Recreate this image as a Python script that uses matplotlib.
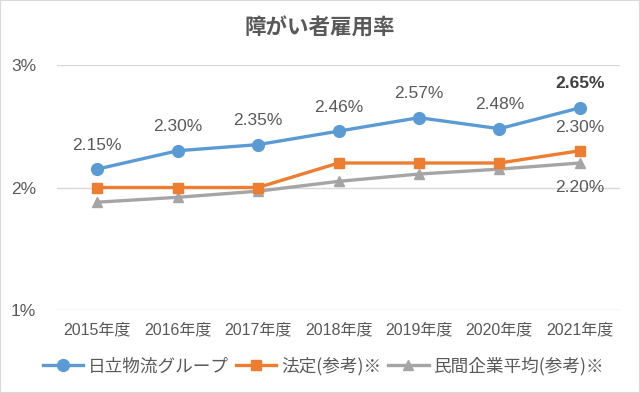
import matplotlib
matplotlib.use("Agg")
import matplotlib.pyplot as plt
from matplotlib.patches import Rectangle

plt.rcParams['font.family'] = ['Liberation Sans', 'Noto Sans CJK JP', 'DejaVu Sans']

years = ["2015年度", "2016年度", "2017年度", "2018年度", "2019年度", "2020年度", "2021年度"]
hitachi = [2.15, 2.30, 2.35, 2.46, 2.57, 2.48, 2.65]
legal = [2.0, 2.0, 2.0, 2.2, 2.2, 2.2, 2.3]
private_avg = [1.88, 1.92, 1.97, 2.05, 2.11, 2.15, 2.20]
series_names = ["日立物流グループ", "法定(参考)※", "民間企業平均(参考)※"]
yticks = [1, 2, 3]
title = "障がい者雇用率"

TXT = "#595959"
fig = plt.figure(figsize=(6.4, 3.93), dpi=100)
fig.patches.append(Rectangle((0, 0), 1, 1, transform=fig.transFigure, fill=False,
                             edgecolor="#d9d9d9", linewidth=1.5))
ax = fig.add_axes([57/640, 1-310/393, (620-57)/640, (310-65)/393])
x = list(range(len(years)))

ax.plot(x, private_avg, color="#A5A5A5", lw=2.4, marker="^", ms=7, label=series_names[2], zorder=3)
ax.plot(x, legal, color="#ED7D31", lw=2.4, marker="s", ms=7, label=series_names[1], zorder=4)
ax.plot(x, hitachi, color="#5B9BD5", lw=2.4, marker="o", ms=8.5, label=series_names[0], zorder=5)

ax.set_xlim(-0.5, len(years)-0.5)
ax.set_ylim(1, 3)
ax.set_yticks(yticks)
ax.set_yticklabels([f"{v}%" for v in yticks], fontsize=12.5, color=TXT)
ax.set_xticks(x)
ax.set_xticklabels(years, fontsize=11.5, color=TXT)
ax.tick_params(axis='both', length=0)
ax.tick_params(axis='y', pad=15)
ax.tick_params(axis='x', pad=9)
ax.grid(axis='y', color="#d9d9d9", lw=1)
ax.set_axisbelow(True)
for s in ax.spines.values():
    s.set_visible(False)

for i, v in enumerate(hitachi):
    bold = (i == len(hitachi)-1)
    ax.annotate(f"{v:.2f}%", (i, v), xytext=(0, 24), textcoords='offset pixels',
                ha='center', va='center', fontsize=12.5, color="#404040" if bold else TXT,
                fontweight='bold' if bold else 'normal')
last = len(years)-1
ax.annotate(f"{legal[last]:.2f}%", (last, legal[last]), xytext=(0, 23), textcoords='offset pixels',
            ha='center', va='center', fontsize=12.5, color=TXT)
ax.annotate(f"{private_avg[last]:.2f}%", (last, private_avg[last]), xytext=(0, -25), textcoords='offset pixels',
            ha='center', va='center', fontsize=12.5, color=TXT)

fig.text(0.5, 1-28/393, title, ha='center', va='center', fontsize=15.5, fontweight='bold', color=TXT,
         family=['Noto Sans CJK JP'])

h, l = ax.get_legend_handles_labels()
order = [2, 1, 0]
leg = fig.legend([h[i] for i in order], [l[i] for i in order], loc='center',
                 bbox_to_anchor=(0.505, 1-366/393), ncol=3, frameon=False,
                 handlelength=2.3, columnspacing=0.4, handletextpad=0.25,
                 prop={'family': ['Noto Sans CJK JP'], 'size': 12.7})
for t in leg.get_texts():
    t.set_color(TXT)

fig.savefig("out.png", dpi=100)
